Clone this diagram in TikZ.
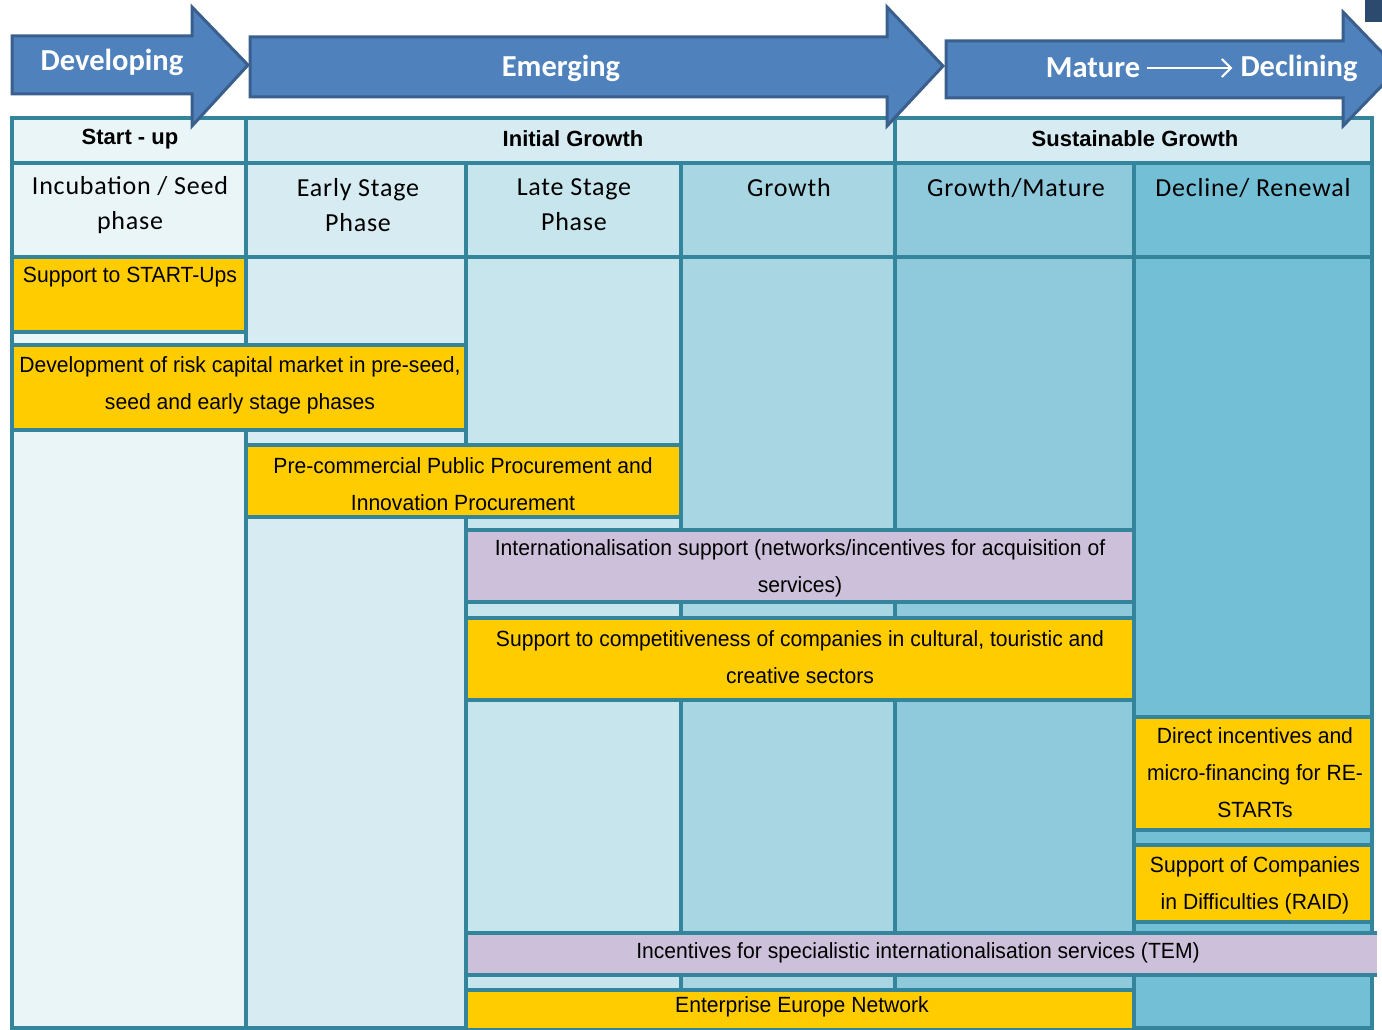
\documentclass[tikz,border=0pt]{standalone}
\usepackage{fontspec}
\setmainfont{Liberation Sans}
\newfontfamily\itemfont[FakeStretch=0.96]{Liberation Sans}
\newfontfamily\hdfont[LetterSpace=3]{Carlito}
\newfontfamily\arrfont{Carlito}
\usetikzlibrary{arrows.meta}
\definecolor{tealb}{HTML}{34849C}
\definecolor{cA}{HTML}{EAF5F8}
\definecolor{cB}{HTML}{D7EBF2}
\definecolor{cC}{HTML}{C7E5ED}
\definecolor{cD}{HTML}{A8D7E3}
\definecolor{cE}{HTML}{8FC9DC}
\definecolor{cF}{HTML}{73BFD5}
\definecolor{yel}{HTML}{FFCC00}
\definecolor{lav}{HTML}{CDC0DA}
\definecolor{arrfill}{HTML}{4F81BD}
\definecolor{arrline}{HTML}{3B5F8C}
\definecolor{corner}{HTML}{2B4A6E}
\tikzset{
  cell/.style={draw=tealb, line width=4.5pt},
  ybox/.style={cell, fill=yel},
  lbox/.style={cell, fill=lav},
  itemtxt/.style={font=\itemfont\fontsize{22}{37}\selectfont, align=center, inner sep=0pt, text=black},
  toptxt/.style={font=\bfseries\fontsize{22}{25}\selectfont, inner sep=0pt, text=black},
  phasetxt/.style={font=\hdfont\fontsize{26}{35}\selectfont, align=center, inner sep=0pt, text=black},
  bigarrow/.style={fill=arrfill, draw=arrline, line width=3pt, line join=miter},
  arrtxt/.style={font=\arrfont\bfseries\fontsize{30.5}{33}\selectfont, text=white, inner sep=0pt}
}
\begin{document}
\begin{tikzpicture}[x=1pt,y=-1pt]
\clip (0,0) rectangle (1382,1030);
\fill[white] (0,0) rectangle (1382,1030);
% header row 1
\path[cell, fill=cA] (12,118) rectangle (246,163);
\path[cell, fill=cB] (246,118) rectangle (895,163);
\path[cell, fill=cB] (895,118) rectangle (1372,163);
% header row 2
\path[cell, fill=cA] (12,163) rectangle (246,257);
\path[cell, fill=cB] (246,163) rectangle (466,257);
\path[cell, fill=cC] (466,163) rectangle (681,257);
\path[cell, fill=cD] (681,163) rectangle (895,257);
\path[cell, fill=cE] (895,163) rectangle (1134,257);
\path[cell, fill=cF] (1134,163) rectangle (1372,257);
% body columns
\path[cell, fill=cA] (12,257) rectangle (246,1028);
\path[cell, fill=cB] (246,257) rectangle (466,1028);
\path[cell, fill=cC] (466,257) rectangle (681,1028);
\path[cell, fill=cD] (681,257) rectangle (895,1028);
\path[cell, fill=cE] (895,257) rectangle (1134,1028);
\path[cell, fill=cF] (1134,257) rectangle (1372,1028);
% boxes
\path[ybox] (12,257) rectangle (246,332);
\path[ybox] (12,345) rectangle (466,430);
\path[ybox] (246,445) rectangle (681,517);
\path[lbox] (466,530) rectangle (1134,602);
\path[ybox] (466,618) rectangle (1134,700);
\path[ybox] (1134,717) rectangle (1372,830);
\path[ybox] (1134,845) rectangle (1372,922);
\fill[lav] (466,933) rectangle (1377,975);
\draw[tealb, line width=4.5pt] (1377,933) -- (466,933) -- (466,975) -- (1377,975);
\path[ybox] (466,990) rectangle (1134,1030);
% texts in header
\node[toptxt] (t1) at (130,139) {Start - up};
\node[toptxt] (t2) at (573,139) {Initial Growth};
\node[toptxt] (t3) at (1135,139) {Sustainable Growth};
\node[phasetxt] (p1) at (130,205) {Incubation / Seed\\phase};
\node[phasetxt] (p2) at (358,205) {Early Stage\\Phase};
\node[phasetxt] (p3) at (574,205) {Late Stage\\Phase};
\node[phasetxt] (p4) at (789,188) {Growth};
\node[phasetxt] (p5) at (1016,188) {Growth/Mature};
\node[phasetxt] (p6) at (1253,188) {Decline/ Renewal};
% item texts
\node[itemtxt] (i1) at (130,277) {Support to START-Ups};
\node[itemtxt] (i2) at (240,385) {Development of risk capital market in pre-seed,\\seed and early stage phases};
\node[itemtxt] (i3) at (463,484) {Pre-commercial Public Procurement and\\Innovation Procurement};
\node[itemtxt] (i4) at (800,568) {Internationalisation support (networks/incentives for acquisition of\\services)};
\node[itemtxt] (i5) at (800,657) {Support to competitiveness of companies in cultural, touristic and\\creative sectors};
\node[itemtxt] (i6) at (1255,773) {Direct incentives and\\micro-financing for RE-\\STARTs};
\node[itemtxt] (i7) at (1255,885) {Support of Companies\\in Difficulties (RAID)};
\node[itemtxt] (i8) at (918,953) {Incentives for specialistic internationalisation services (TEM)};
\node[itemtxt] (i9) at (802,1007) {Enterprise Europe Network};
% big arrows
\path[bigarrow] (12,36) -- (192,36) -- (192,7) -- (248,65) -- (192,126) -- (192,94) -- (12,94) -- cycle;
\path[bigarrow] (250,37) -- (887,37) -- (887,7) -- (943,66) -- (887,126) -- (887,97) -- (250,97) -- cycle;
\path[bigarrow] (946,41) -- (1343,41) -- (1343,12) -- (1398,69) -- (1343,126) -- (1343,98) -- (946,98) -- cycle;
\node[arrtxt] (a1) at (112,62) {Developing};
\node[arrtxt] (a2) at (561,68) {Emerging};
\node[arrtxt] (a3) at (1093,68) {Mature};
\node[arrtxt] (a4) at (1299,68) {Declining};
\draw[white, line width=2pt, -{Straight Barb[length=9pt,width=18pt,line width=2pt]}, shorten <=7pt, shorten >=8pt] (a3.east) -- (a4.west);
% corner mark
\fill[corner] (1365,0) rectangle (1382,22);
\end{tikzpicture}
\end{document}
